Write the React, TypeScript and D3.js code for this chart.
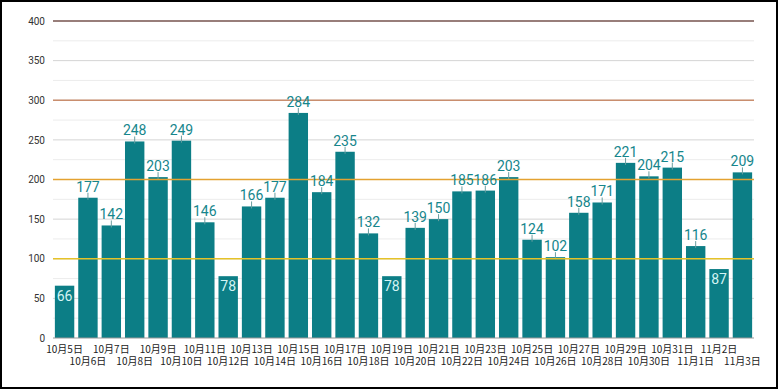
import React, { useEffect, useRef } from 'react';
import * as d3 from 'd3';

const dates = [
  '10月5日', '10月6日', '10月7日', '10月8日', '10月9日', '10月10日', '10月11日', '10月12日',
  '10月13日', '10月14日', '10月15日', '10月16日', '10月17日', '10月18日', '10月19日', '10月20日',
  '10月21日', '10月22日', '10月23日', '10月24日', '10月25日', '10月26日', '10月27日', '10月28日',
  '10月29日', '10月30日', '10月31日', '11月1日', '11月2日', '11月3日',
];
const counts = [
  66, 177, 142, 248, 203, 249, 146, 78, 166, 177, 284, 184, 235, 132, 78,
  139, 150, 185, 186, 203, 124, 102, 158, 171, 221, 204, 215, 116, 87, 209,
];
const yTicks = [0, 50, 100, 150, 200, 250, 300, 350, 400];
const refLines = [
  { value: 100, color: '#e6c229' },
  { value: 200, color: '#e4a231' },
  { value: 300, color: '#c98e6e' },
  { value: 400, color: '#7d5a55' },
];

const W = 780;
const H = 390;

const App = () => {
  const ref = useRef(null);

  useEffect(() => {
    const svg = d3.select(ref.current);
    svg.selectAll('*').remove();

    const margin = { top: 21, right: 26, bottom: 52, left: 53 };
    const x = d3.scaleBand()
      .domain(dates)
      .range([margin.left, W - margin.right])
      .paddingInner(0.17)
      .paddingOuter(0.08);
    const y = d3.scaleLinear().domain([0, 400]).range([H - margin.bottom, margin.top]);

    svg.append('rect')
      .attr('x', 1).attr('y', 1)
      .attr('width', W - 4).attr('height', H - 3)
      .attr('fill', '#fff')
      .attr('stroke', '#000')
      .attr('stroke-width', 2);

    // minor grid
    svg.append('g')
      .selectAll('line')
      .data(d3.range(25, 400, 50))
      .enter().append('line')
      .attr('x1', margin.left).attr('x2', W - margin.right)
      .attr('y1', d => y(d)).attr('y2', d => y(d))
      .attr('stroke', '#ececec');

    // major grid
    svg.append('g')
      .selectAll('line')
      .data(yTicks.filter(d => d > 0))
      .enter().append('line')
      .attr('x1', margin.left).attr('x2', W - margin.right)
      .attr('y1', d => y(d)).attr('y2', d => y(d))
      .attr('stroke', '#d4d4d4');

    const yAxis = svg.append('g')
      .attr('transform', `translate(${margin.left},0)`)
      .call(d3.axisLeft(y).tickValues(yTicks).tickSize(0).tickPadding(8));
    yAxis.select('.domain').remove();
    yAxis.selectAll('text')
      .style('font-family', 'Roboto, sans-serif')
      .style('font-size', '10px')
      .style('fill', '#333');

    // bars
    svg.append('g')
      .selectAll('rect')
      .data(counts)
      .enter().append('rect')
      .attr('x', (d, i) => x(dates[i]))
      .attr('y', d => y(d))
      .attr('width', x.bandwidth())
      .attr('height', d => y(0) - y(d))
      .attr('fill', '#0c7e86');

    // small tick above bars
    svg.append('g')
      .selectAll('line')
      .data(counts)
      .enter().append('line')
      .attr('x1', (d, i) => x(dates[i]) + x.bandwidth() / 2)
      .attr('x2', (d, i) => x(dates[i]) + x.bandwidth() / 2)
      .attr('y1', d => y(d) - 5)
      .attr('y2', d => y(d) + 2)
      .attr('stroke', d => d < 100 ? 'none' : '#6a9ea0')
      .attr('stroke-width', 1);

    // reference lines
    svg.append('g')
      .selectAll('line')
      .data(refLines)
      .enter().append('line')
      .attr('x1', margin.left).attr('x2', W - margin.right)
      .attr('y1', d => y(d.value)).attr('y2', d => y(d.value))
      .attr('stroke', d => d.color)
      .attr('stroke-width', 1.5);

    // axis baseline
    svg.append('line')
      .attr('x1', margin.left).attr('x2', W - margin.right)
      .attr('y1', y(0)).attr('y2', y(0))
      .attr('stroke', '#999');

    // value labels
    svg.append('g')
      .selectAll('text')
      .data(counts)
      .enter().append('text')
      .attr('x', (d, i) => x(dates[i]) + x.bandwidth() / 2)
      .attr('y', d => d < 100 ? y(d) + 15 : y(d) - 6)
      .attr('text-anchor', 'middle')
      .style('font-family', 'Roboto, sans-serif')
      .style('font-size', '14px')
      .style('fill', d => d < 100 ? '#d4f4f4' : '#16868c')
      .text(d => d);

    // x labels, staggered
    svg.append('g')
      .selectAll('text')
      .data(dates)
      .enter().append('text')
      .attr('x', d => x(d) + x.bandwidth() / 2)
      .attr('y', (d, i) => i % 2 === 0 ? y(0) + 15 : y(0) + 27)
      .attr('text-anchor', 'middle')
      .style('font-family', '"Noto Sans CJK JP", sans-serif')
      .style('font-size', '10px')
      .style('fill', '#222')
      .text(d => d);
  }, []);

  return (
    <svg ref={ref} width={W} height={H} style={{ position: 'absolute', left: 0, top: 0 }}></svg>
  );
};

export default App;
